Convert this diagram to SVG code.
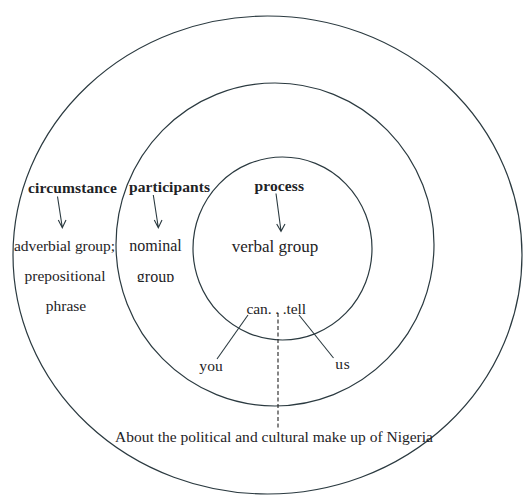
<svg xmlns="http://www.w3.org/2000/svg" width="524" height="495" viewBox="0 0 524 495">
<defs>
<style>
.ring{fill:none;stroke:#2b3a40;stroke-width:1.2}
.ln{fill:none;stroke:#2b3a40;stroke-width:1.1}
.dash{fill:none;stroke:#222;stroke-width:1.1;stroke-dasharray:4 2.5}
.t{font-family:'Liberation Serif','Tinos','Times New Roman','DejaVu Serif',serif;fill:#1e2326;font-size:15.5px}
.b{font-weight:bold}
</style>
<clipPath id="cg"><rect x="120" y="262" width="80" height="20"/></clipPath>
</defs>
<rect width="524" height="495" fill="#fff"/>
<g id="rings">
<ellipse id="outer" class="ring" cx="267.5" cy="255" rx="254.5" ry="239"/>
<ellipse id="middle" class="ring" cx="275" cy="244.5" rx="159" ry="161.5"/>
<ellipse id="inner" class="ring" cx="282.5" cy="248.5" rx="89.5" ry="91.5"/>
</g>
<g id="connectors">
<path class="ln" d="M57.5,196.5 L62.3,227.5 M58.3,220 L62.3,227.8 L66,220"/>
<path class="ln" d="M153.3,195 L158.3,227.5 M154.3,220 L158.3,227.8 L162,220"/>
<path class="ln" d="M276,193.5 L281,231 M276.7,224 L281,231.3 L285,224"/>
<path class="ln" d="M248,315 L217,359"/>
<path class="ln" d="M299,315 L333.5,358"/>
<path class="dash" d="M278,313 L278,428"/>
</g>
<g id="circumstance">
<text class="t b" font-family="Liberation Serif, Times New Roman, DejaVu Serif, serif" x="28" y="192.5" textLength="89">circumstance</text>
<text class="t" font-family="Liberation Serif, Times New Roman, DejaVu Serif, serif" x="14" y="251" textLength="101">adverbial group;</text>
<text class="t" font-family="Liberation Serif, Times New Roman, DejaVu Serif, serif" x="65" y="281" text-anchor="middle">prepositional</text>
<text class="t" font-family="Liberation Serif, Times New Roman, DejaVu Serif, serif" x="66" y="311" text-anchor="middle">phrase</text>
</g>
<g id="participants">
<text class="t b" font-family="Liberation Serif, Times New Roman, DejaVu Serif, serif" x="129" y="192" textLength="81">participants</text>
<text class="t" font-family="Liberation Serif, Times New Roman, DejaVu Serif, serif" x="155.5" y="251" text-anchor="middle" style="font-size:16px">nominal</text>
<text class="t" font-family="Liberation Serif, Times New Roman, DejaVu Serif, serif" x="155.5" y="281.5" text-anchor="middle" style="font-size:16px" clip-path="url(#cg)">group</text>
</g>
<g id="process">
<text class="t b" font-family="Liberation Serif, Times New Roman, DejaVu Serif, serif" x="254.5" y="191" textLength="49.5">process</text>
<text class="t" font-family="Liberation Serif, Times New Roman, DejaVu Serif, serif" x="275" y="252" text-anchor="middle" style="font-size:17px">verbal group</text>
</g>
<g id="verb">
<text class="t" font-family="Liberation Serif, Times New Roman, DejaVu Serif, serif" x="246.5" y="313.5" textLength="59.5">can. . .tell</text>
<text class="t" font-family="Liberation Serif, Times New Roman, DejaVu Serif, serif" x="199.3" y="370.5" textLength="23.5">you</text>
<text class="t" font-family="Liberation Serif, Times New Roman, DejaVu Serif, serif" x="335.3" y="368.5" textLength="14.5">us</text>
</g>
<g id="about">
<text class="t" font-family="Liberation Serif, Times New Roman, DejaVu Serif, serif" x="115" y="441.5" textLength="318">About the political and cultural make up of Nigeria</text>
</g>
</svg>
